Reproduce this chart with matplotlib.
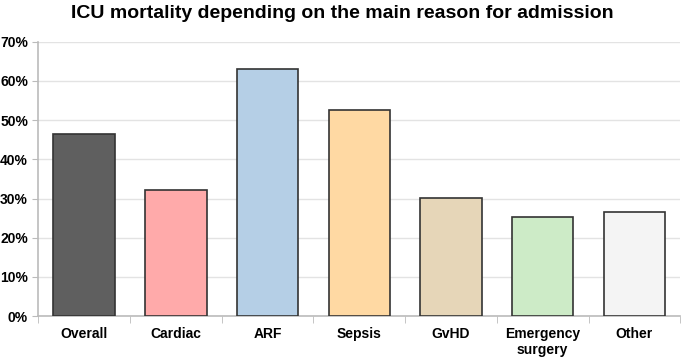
import matplotlib.pyplot as plt
from matplotlib.ticker import PercentFormatter, FixedLocator

plt.rcParams['font.family'] = ['Liberation Sans', 'DejaVu Sans']

categories = ["Overall", "Cardiac", "ARF", "Sepsis", "GvHD", "Emergency\nsurgery", "Other"]
mortality = [46.5, 32.3, 63.0, 52.5, 30.1, 25.4, 26.6]
colors = ["#5f5f5f", "#ffaaaa", "#b5cfe6", "#ffd9a3", "#e6d6b8", "#cdebc7", "#f4f4f4"]

fig = plt.figure(figsize=(6.85, 3.6), dpi=100)
ax = fig.add_axes([0.056, 0.122, 0.937, 0.762])

x = range(len(categories))
ax.bar(x, mortality, width=0.67, color=colors, edgecolor="#333333", linewidth=1.2, zorder=3)

ax.set_xlim(-0.5, len(categories) - 0.5)
ax.set_ylim(0, 70)
ax.set_yticks(range(0, 71, 10))
ax.yaxis.set_major_formatter(PercentFormatter(decimals=0))
ax.grid(axis="y", color="#e3e3e3", linewidth=1, zorder=0)

ax.set_xticks(list(x))
ax.set_xticklabels(categories, fontweight="bold", fontsize=10)
ax.xaxis.set_minor_locator(FixedLocator([i - 0.5 for i in range(len(categories) + 1)]))
ax.tick_params(axis="x", which="major", length=0, pad=8)
ax.tick_params(axis="x", which="minor", length=5, color="#bbbbbb")
ax.tick_params(axis="y", length=4, color="#bbbbbb", labelsize=10)
for lbl in ax.get_yticklabels():
    lbl.set_fontweight("bold")

for side in ["top", "right"]:
    ax.spines[side].set_visible(False)
for side in ["left", "bottom"]:
    ax.spines[side].set_color("#bbbbbb")
    ax.spines[side].set_linewidth(1.2)

fig.suptitle("ICU mortality depending on the main reason for admission",
             fontweight="bold", fontsize=14, x=0.5, y=0.985)

fig.savefig("out.png", dpi=100)
